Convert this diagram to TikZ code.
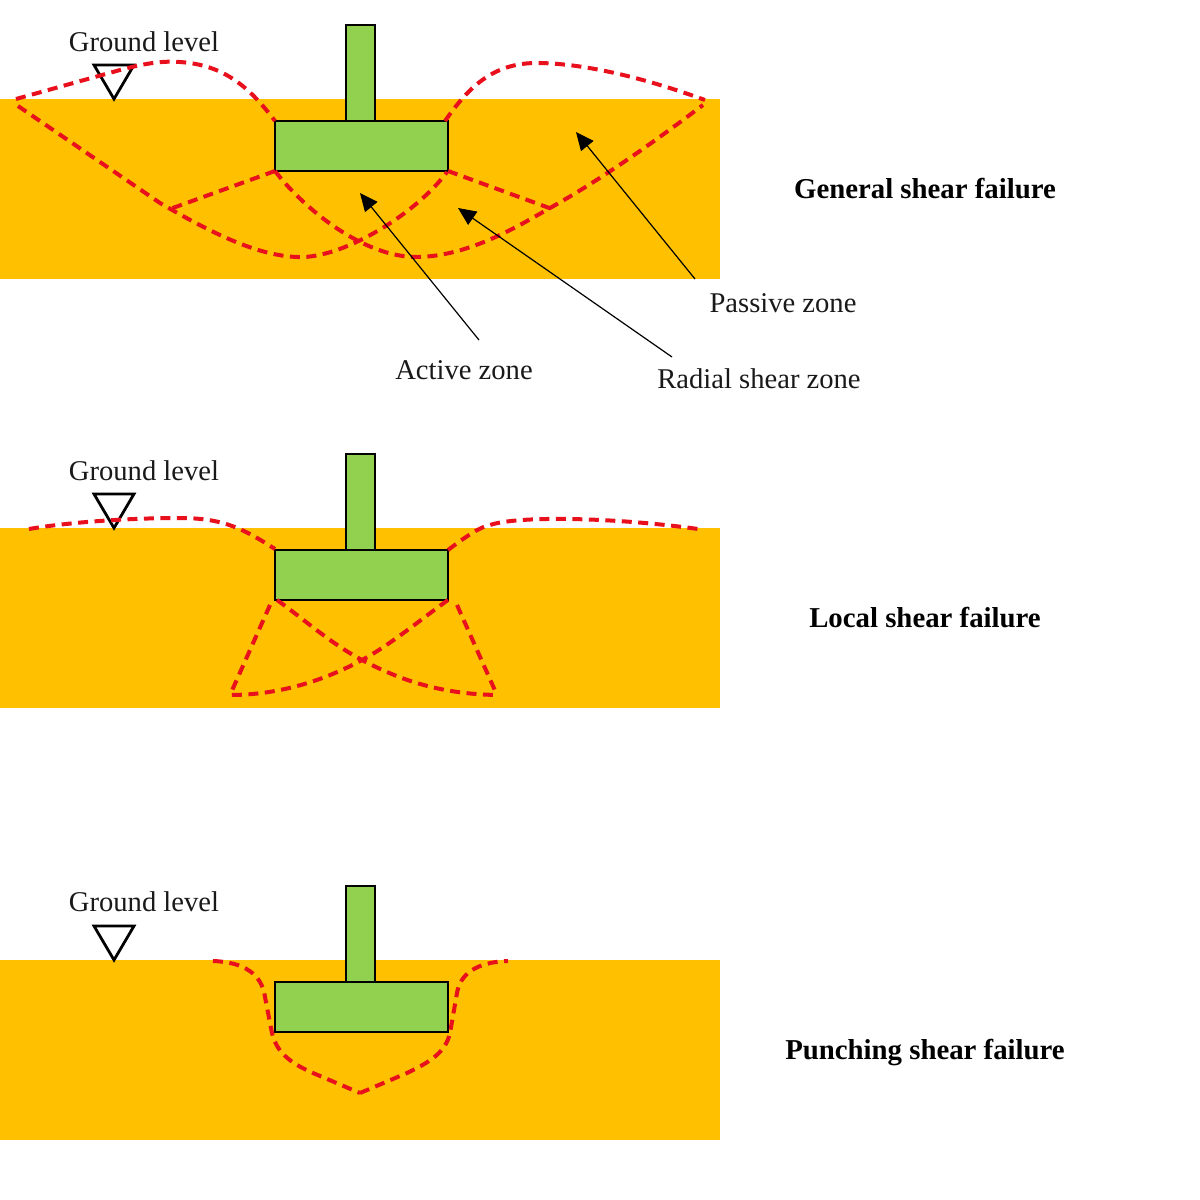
\documentclass[tikz,border=0pt]{standalone}
\usepackage{fontspec}
\setmainfont{Liberation Serif}
\usetikzlibrary{arrows.meta}
\definecolor{soil}{HTML}{FFC000}
\definecolor{conc}{HTML}{92D050}
\definecolor{slip}{HTML}{E8101C}
\tikzset{
  ground/.style={fill=soil,draw=none},
  footing/.style={fill=conc,draw=black,line width=2.8pt},
  marker/.style={draw=black,line width=2.8pt,line join=miter,fill=none},
  slipline/.style={draw=slip,line width=4pt,dash pattern=on 10pt off 6.5pt},
  lead/.style={draw=black,line width=1.2pt,-{Triangle[length=18pt,width=16pt]}},
  lbl/.style={font=\fontsize{28.6}{30}\selectfont,inner sep=0pt,text=black!90,anchor=base},
  ttl/.style={font=\fontsize{28.8}{30}\selectfont\bfseries,inner sep=0pt,text=black,anchor=base}
}
\newcommand{\panelbase}[3]{%
  \begin{scope}[yshift=-#1pt]
    \path[ground] (0,99) rectangle (720,279);
    \path[footing] (346,25) rectangle (375,121);
    \path[footing] (275,121) rectangle (448,171);
    \node[lbl] (gl#2) at (144,#3) {Ground level};
    \path[marker] (94,65) -- (134,65) -- (114,99) -- cycle;
  \end{scope}
}
\begin{document}
\begin{tikzpicture}[x=1pt,y=-1pt]
\useasboundingbox (0,0) rectangle (1200,1200);
\fill[white] (0,0) rectangle (1200,1200);

\panelbase{0}{a}{51}
\panelbase{429}{b}{51}
\panelbase{861}{c}{50}

% general shear
\draw[slipline] (16,99) -- (120,70) .. controls (150,62) and (165,61) .. (180,62) .. controls (225,65) and (250,88) .. (275,121);
\draw[slipline] (445,121) .. controls (470,85) and (495,62) .. (540,63) .. controls (590,64) and (650,80) .. (705,100);
\draw[slipline] (18,106) -- (160,203) .. controls (210,232) and (260,258) .. (303,257) .. controls (345,256) and (415,215) .. (447,172);
\draw[slipline] (275,171) .. controls (305,210) and (365,258) .. (418,257) .. controls (470,256) and (520,225) .. (550,208) .. controls (600,180) and (650,145) .. (703,105);
\draw[slipline] (275,171) -- (170,209);
\draw[slipline] (448,171) -- (552,209);

% local shear
\draw[slipline] (29,529) .. controls (70,522) and (130,518) .. (180,518) .. controls (225,518) and (245,530) .. (275,549);
\draw[slipline] (448,550) .. controls (468,535) and (480,527) .. (490,525) .. controls (520,515) and (620,518) .. (698,529);
\draw[slipline] (277,600) .. controls (305,620) and (330,643) .. (362,660) .. controls (400,680) and (440,694) .. (497,695);
\draw[slipline] (448,600) .. controls (420,620) and (390,645) .. (362,660) .. controls (325,680) and (280,695) .. (230,695);
\draw[slipline] (270,605) -- (230,695);
\draw[slipline] (457,605) -- (497,695);

% punching shear
\draw[slipline] (213,961) .. controls (245,962) and (262,975) .. (265,997) -- (272,1033) .. controls (277,1055) and (295,1065) .. (313,1073) -- (360,1093);
\draw[slipline] (360,1093) -- (407,1073) .. controls (425,1064) and (445,1055) .. (450,1033) -- (457,993) .. controls (460,975) and (475,962) .. (508,961);

% zone labels
\node[lbl] (passive) at (783,312) {Passive zone};
\node[lbl] (active) at (464,379) {Active zone};
\node[lbl] (radial) at (759,388) {Radial shear zone};
\coordinate (ps) at (695,279);
\coordinate (pt) at (576,132);
\coordinate (as) at (479,340);
\coordinate (at1) at (360,193);
\coordinate (rs) at (672,357);
\coordinate (rt) at (458,208);
\draw[lead] (ps) -- (pt);
\draw[lead] (as) -- (at1);
\draw[lead] (rs) -- (rt);

% titles
\node[ttl] (t1) at (925,198) {General shear failure};
\node[ttl] (t2) at (925,627) {Local shear failure};
\node[ttl] (t3) at (925,1059) {Punching shear failure};
\end{tikzpicture}
\end{document}
